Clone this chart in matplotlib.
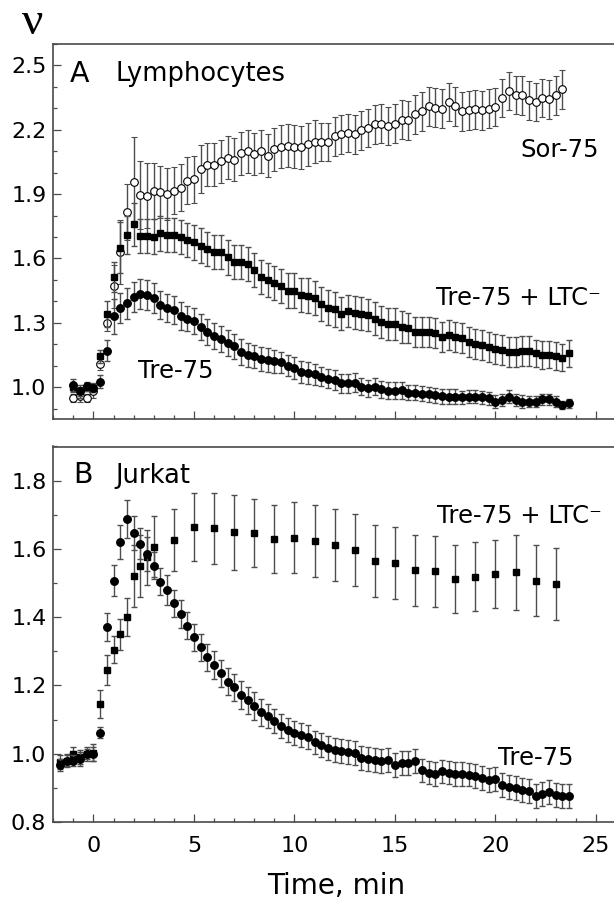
import matplotlib
matplotlib.use("Agg")
import matplotlib.pyplot as plt
from matplotlib.ticker import MultipleLocator

# ---------------- Panel A: Lymphocytes ----------------
t_A = [-1.00, -0.67, -0.33, 0.00, 0.33, 0.67, 1.00, 1.33, 1.67, 2.00,
       2.33, 2.67, 3.00, 3.33, 3.67, 4.00, 4.33, 4.67, 5.00, 5.33,
       5.67, 6.00, 6.33, 6.67, 7.00, 7.33, 7.67, 8.00, 8.33, 8.67,
       9.00, 9.33, 9.67, 10.00, 10.33, 10.67, 11.00, 11.33, 11.67, 12.00,
       12.33, 12.67, 13.00, 13.33, 13.67, 14.00, 14.33, 14.67, 15.00, 15.33,
       15.67, 16.00, 16.33, 16.67, 17.00, 17.33, 17.67, 18.00, 18.33, 18.67,
       19.00, 19.33, 19.67, 20.00, 20.33, 20.67, 21.00, 21.33, 21.67, 22.00,
       22.33, 22.67, 23.00, 23.33, 23.67]

sor75_A = [0.95, 0.96, 0.95, 0.98, 1.11, 1.30, 1.47, 1.63, 1.815, 1.955,
           1.896, 1.893, 1.916, 1.91, 1.90, 1.916, 1.93, 1.963, 1.97, 2.017,
           2.037, 2.037, 2.053, 2.07, 2.06, 2.09, 2.10, 2.087, 2.10, 2.08,
           2.11, 2.12, 2.126, 2.12, 2.118, 2.133, 2.144, 2.143, 2.143, 2.169,
           2.179, 2.185, 2.179, 2.197, 2.208, 2.225, 2.228, 2.217, 2.228, 2.247,
           2.244, 2.272, 2.286, 2.309, 2.303, 2.298, 2.329, 2.309, 2.286, 2.29,
           2.295, 2.29, 2.298, 2.306, 2.348, 2.38, 2.363, 2.36, 2.337, 2.329,
           2.349, 2.342, 2.36, 2.388]
sor75_A_err = [0.02, 0.03, 0.02, 0.03, 0.03, 0.04, 0.10, 0.15, 0.13, 0.21,
               0.16, 0.15, 0.13, 0.12, 0.12, 0.11, 0.11, 0.11, 0.11, 0.11,
               0.10, 0.10, 0.10, 0.10, 0.10, 0.10, 0.10, 0.10, 0.10, 0.10,
               0.10, 0.10, 0.10, 0.10, 0.10, 0.10, 0.10, 0.09, 0.09, 0.09,
               0.09, 0.09, 0.09, 0.09, 0.09, 0.09, 0.09, 0.09, 0.09, 0.09,
               0.09, 0.09, 0.09, 0.09, 0.09, 0.09, 0.09, 0.09, 0.09, 0.09,
               0.09, 0.09, 0.09, 0.09, 0.09, 0.09, 0.09, 0.09, 0.09, 0.09,
               0.09, 0.09, 0.09, 0.09]

ltc_A = [1.00, 0.98, 1.00, 0.995, 1.143, 1.34, 1.515, 1.65, 1.71, 1.76,
         1.705, 1.705, 1.702, 1.717, 1.71, 1.71, 1.70, 1.686, 1.675, 1.66,
         1.645, 1.63, 1.63, 1.605, 1.585, 1.585, 1.575, 1.547, 1.515, 1.50,
         1.485, 1.47, 1.45, 1.45, 1.43, 1.427, 1.415, 1.387, 1.371, 1.362,
         1.343, 1.356, 1.348, 1.343, 1.335, 1.32, 1.304, 1.293, 1.293, 1.281,
         1.278, 1.258, 1.255, 1.258, 1.253, 1.234, 1.242, 1.234, 1.227, 1.211,
         1.20, 1.196, 1.188, 1.18, 1.175, 1.165, 1.165, 1.168, 1.169, 1.157,
         1.149, 1.152, 1.144, 1.138, 1.157]
ltc_A_err = [0.02, 0.02, 0.02, 0.02, 0.03, 0.06, 0.07, 0.12, 0.09, 0.10,
             0.08, 0.08, 0.08, 0.08, 0.08, 0.08, 0.08, 0.08, 0.08, 0.08,
             0.08, 0.08, 0.08, 0.08, 0.08, 0.08, 0.08, 0.08, 0.08, 0.08,
             0.08, 0.08, 0.08, 0.08, 0.08, 0.08, 0.08, 0.08, 0.08, 0.08,
             0.075, 0.075, 0.075, 0.075, 0.075, 0.075, 0.075, 0.075, 0.075, 0.075,
             0.07, 0.07, 0.07, 0.07, 0.07, 0.07, 0.07, 0.07, 0.07, 0.07,
             0.07, 0.07, 0.07, 0.07, 0.07, 0.07, 0.07, 0.07, 0.07, 0.065,
             0.065, 0.065, 0.065, 0.065, 0.065]

tre_A = [1.008, 0.98, 1.003, 0.997, 1.026, 1.17, 1.33, 1.37, 1.39, 1.42,
         1.435, 1.43, 1.415, 1.385, 1.37, 1.36, 1.33, 1.32, 1.31, 1.28,
         1.256, 1.24, 1.225, 1.205, 1.19, 1.163, 1.15, 1.143, 1.13, 1.127,
         1.12, 1.116, 1.10, 1.09, 1.07, 1.065, 1.06, 1.048, 1.04, 1.033,
         1.017, 1.017, 1.02, 1.002, 0.994, 1.002, 0.989, 0.983, 0.983, 0.986,
         0.974, 0.974, 0.97, 0.967, 0.963, 0.958, 0.955, 0.955, 0.952, 0.955,
         0.955, 0.952, 0.947, 0.932, 0.94, 0.955, 0.94, 0.932, 0.932, 0.932,
         0.943, 0.943, 0.932, 0.916, 0.924]
tre_A_err = [0.03, 0.03, 0.02, 0.02, 0.03, 0.05, 0.08, 0.07, 0.07, 0.07,
             0.07, 0.07, 0.07, 0.065, 0.065, 0.065, 0.065, 0.06, 0.06, 0.06,
             0.06, 0.06, 0.06, 0.06, 0.06, 0.06, 0.055, 0.055, 0.055, 0.055,
             0.055, 0.05, 0.05, 0.05, 0.05, 0.05, 0.05, 0.045, 0.045, 0.045,
             0.045, 0.045, 0.045, 0.04, 0.04, 0.04, 0.04, 0.04, 0.04, 0.04,
             0.035, 0.035, 0.035, 0.035, 0.035, 0.035, 0.035, 0.035, 0.03, 0.03,
             0.03, 0.03, 0.03, 0.03, 0.03, 0.03, 0.03, 0.03, 0.025, 0.025,
             0.025, 0.025, 0.025, 0.02, 0.02]

# ---------------- Panel B: Jurkat ----------------
t_B_tre = [-1.67, -1.33, -1.00, -0.67, -0.33, 0.00, 0.33, 0.67, 1.00, 1.33,
           1.67, 2.00, 2.33, 2.67, 3.00, 3.33, 3.67, 4.00, 4.33, 4.67,
           5.00, 5.33, 5.67, 6.00, 6.33, 6.67, 7.00, 7.33, 7.67, 8.00,
           8.33, 8.67, 9.00, 9.33, 9.67, 10.00, 10.33, 10.67, 11.00, 11.33,
           11.67, 12.00, 12.33, 12.67, 13.00, 13.33, 13.67, 14.00, 14.33, 14.67,
           15.00, 15.33, 15.67, 16.00, 16.33, 16.67, 17.00, 17.33, 17.67, 18.00,
           18.33, 18.67, 19.00, 19.33, 19.67, 20.00, 20.33, 20.67, 21.00, 21.33,
           21.67, 22.00, 22.33, 22.67, 23.00, 23.33, 23.67]
tre_B = [0.968, 0.98, 0.98, 0.985, 1.0, 1.0, 1.062, 1.371, 1.507, 1.62,
         1.687, 1.646, 1.615, 1.585, 1.551, 1.504, 1.48, 1.441, 1.409, 1.375,
         1.341, 1.312, 1.282, 1.26, 1.236, 1.211, 1.195, 1.172, 1.156, 1.14,
         1.121, 1.111, 1.095, 1.082, 1.07, 1.062, 1.056, 1.049, 1.033, 1.026,
         1.017, 1.012, 1.007, 1.004, 1.002, 0.987, 0.984, 0.982, 0.98, 0.982,
         0.968, 0.973, 0.973, 0.978, 0.951, 0.945, 0.941, 0.948, 0.945, 0.941,
         0.941, 0.939, 0.934, 0.929, 0.924, 0.926, 0.909, 0.902, 0.90, 0.895,
         0.89, 0.875, 0.883, 0.887, 0.88, 0.877, 0.875]
tre_B_err = [0.018, 0.015, 0.015, 0.02, 0.015, 0.02, 0.015, 0.04, 0.045, 0.05,
             0.055, 0.05, 0.045, 0.05, 0.04, 0.04, 0.045, 0.04, 0.04, 0.04,
             0.04, 0.04, 0.04, 0.04, 0.04, 0.04, 0.04, 0.04, 0.04, 0.04,
             0.04, 0.035, 0.035, 0.035, 0.035, 0.035, 0.035, 0.035, 0.035, 0.035,
             0.035, 0.035, 0.035, 0.035, 0.035, 0.035, 0.035, 0.035, 0.035, 0.035,
             0.035, 0.035, 0.035, 0.035, 0.035, 0.035, 0.035, 0.035, 0.035, 0.035,
             0.035, 0.035, 0.035, 0.035, 0.035, 0.035, 0.035, 0.035, 0.035, 0.035,
             0.035, 0.035, 0.035, 0.035, 0.035, 0.035, 0.035]

t_B_ltc = [-1.67, -1.33, -1.00, -0.67, -0.33, 0.00, 0.33, 0.67, 1.00, 1.33,
           1.67, 2.00, 2.33, 2.67, 3.00, 4, 5, 6, 7, 8,
           9, 10, 11, 12, 13, 14, 15, 16, 17, 18,
           19, 20, 21, 22, 23]
ltc_B = [0.975, 0.98, 1.0, 0.99, 1.0, 1.003, 1.146, 1.245, 1.305, 1.35,
         1.40, 1.52, 1.55, 1.575, 1.607, 1.626, 1.665, 1.66, 1.649, 1.646,
         1.628, 1.633, 1.623, 1.612, 1.597, 1.564, 1.558, 1.537, 1.534, 1.511,
         1.519, 1.526, 1.531, 1.507, 1.497]
ltc_B_err = [0.02, 0.02, 0.02, 0.02, 0.02, 0.025, 0.04, 0.045, 0.04, 0.045,
             0.055, 0.09, 0.09, 0.08, 0.09, 0.09, 0.10, 0.105, 0.11, 0.10,
             0.10, 0.105, 0.105, 0.105, 0.105, 0.105, 0.105, 0.105, 0.105, 0.10,
             0.10, 0.10, 0.11, 0.105, 0.105]

W, H = 614, 909
plt.rcParams['font.family'] = ['DejaVu Sans']

fig = plt.figure(figsize=(W / 100, H / 100), dpi=100)
axA = fig.add_axes([53.3 / W, 1 - 419.3 / H, 1 - 53.3 / W, (419.3 - 44) / H])
axB = fig.add_axes([53.3 / W, 1 - 822 / H, 1 - 53.3 / W, (822 - 446.5) / H])

ecol = '#4d4d4d'
ekw = dict(ecolor=ecol, elinewidth=1.0, capsize=2.0, capthick=1.0, linestyle='none')

axA.errorbar(t_A[:len(sor75_A)], sor75_A, yerr=sor75_A_err, fmt='o', ms=5.5,
             mfc='white', mec='black', mew=0.8, **ekw, zorder=3)
axA.errorbar(t_A, ltc_A, yerr=ltc_A_err, fmt='s', ms=4.2,
             mfc='black', mec='black', **ekw, zorder=4)
axA.errorbar(t_A, tre_A, yerr=tre_A_err, fmt='o', ms=5.4,
             mfc='black', mec='black', **ekw, zorder=5)

axB.errorbar(t_B_ltc, ltc_B, yerr=ltc_B_err, fmt='s', ms=4.4,
             mfc='black', mec='black', **ekw, zorder=4)
axB.errorbar(t_B_tre, tre_B, yerr=tre_B_err, fmt='o', ms=5.4,
             mfc='black', mec='black', **ekw, zorder=5)

spine_col = '#4a4a4a'
for ax in (axA, axB):
    ax.set_xlim(-2, 25.9)
    ax.spines['right'].set_visible(False)
    for s in ('left', 'top', 'bottom'):
        ax.spines[s].set_color(spine_col)
        ax.spines[s].set_linewidth(1.2)
    ax.xaxis.set_major_locator(MultipleLocator(5))
    ax.xaxis.set_minor_locator(MultipleLocator(1))
    ax.tick_params(which='both', direction='in', top=False, right=False,
                   color=spine_col, width=0.9)
    ax.tick_params(which='major', length=6)
    ax.tick_params(which='minor', length=3)
    ax.tick_params(axis='y', labelsize=16, pad=5)
    ax.tick_params(axis='x', labelsize=16, pad=10)

axA.set_ylim(0.85, 2.6)
axA.set_yticks([1.0, 1.3, 1.6, 1.9, 2.2, 2.5])
axA.set_yticklabels(['1.0', '1.3', '1.6', '1.9', '2.2', '2.5'])
axA.yaxis.set_minor_locator(MultipleLocator(0.1))
axA.tick_params(axis='x', labelbottom=False)

axB.set_ylim(0.8, 1.9)
axB.set_yticks([0.8, 1.0, 1.2, 1.4, 1.6, 1.8])
axB.set_yticklabels(['0.8', '1.0', '1.2', '1.4', '1.6', '1.8'])
axB.yaxis.set_minor_locator(MultipleLocator(0.1))
axB.set_xticks([0, 5, 10, 15, 20, 25])
axB.set_xticklabels(['0', '5', '10', '15', '20', '25'])


def ftext(x, y, s, **kw):
    fig.text(x / W, 1 - y / H, s, **kw)


ftext(33, 34, 'ν', family=['Liberation Serif', 'DejaVu Serif'], fontsize=34,
      ha='center', va='baseline')
ftext(70, 82, 'A', fontsize=20.5, ha='left', va='baseline')
ftext(115, 81, 'Lymphocytes', fontsize=18.5, ha='left', va='baseline')
ftext(599, 157, 'Sor-75', fontsize=17.5, ha='right', va='baseline')
ftext(436, 305, 'Tre-75 + LTC⁻', fontsize=17.5, ha='left', va='baseline')
ftext(138, 378, 'Tre-75', fontsize=17.5, ha='left', va='baseline')

ftext(73, 483, 'B', fontsize=20.5, ha='left', va='baseline')
ftext(115, 483, 'Jurkat', fontsize=18.5, ha='left', va='baseline')
ftext(437, 523, 'Tre-75 + LTC⁻', fontsize=17.5, ha='left', va='baseline')
ftext(498, 765, 'Tre-75', fontsize=17.5, ha='left', va='baseline')

ftext(336, 886, 'Time, min', fontsize=20, ha='center', va='center')

fig.savefig('out.png', dpi=100)
